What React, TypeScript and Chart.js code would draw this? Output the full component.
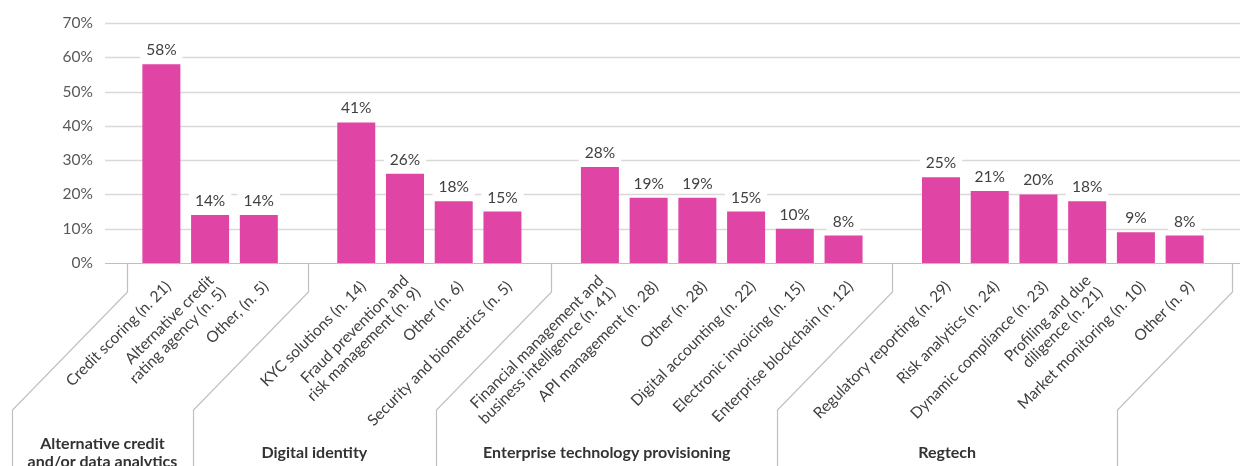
import { useEffect, useRef } from "react";
import { Chart, registerables } from "chart.js";

Chart.register(...registerables);

// ---- data ----
const groupNames = [
  ["Alternative credit", "and/or data analytics"],
  ["Digital identity"],
  ["Enterprise technology provisioning"],
  ["Regtech"],
];

const creditLabels = [
  ["Credit scoring (n. 21)"],
  ["Alternative credit", "rating agency (n. 5)"],
  ["Other, (n. 5)"],
];
const creditValues = [58, 14, 14];

const identityLabels = [
  ["KYC solutions (n. 14)"],
  ["Fraud prevention and", "risk management (n. 9)"],
  ["Other (n. 6)"],
  ["Security and biometrics (n. 5)"],
];
const identityValues = [41, 26, 18, 15];

const enterpriseLabels = [
  ["Financial management and", "business intelligence (n. 41)"],
  ["API management (n. 28)"],
  ["Other (n. 28)"],
  ["Digital accounting (n. 22)"],
  ["Electronic invoicing (n. 15)"],
  ["Enterprise blockchain (n. 12)"],
];
const enterpriseValues = [28, 19, 19, 15, 10, 8];

const regtechLabels = [
  ["Regulatory reporting (n. 29)"],
  ["Risk analytics (n. 24)"],
  ["Dynamic compliance (n. 23)"],
  ["Profiling and due", "diligence (n. 21)"],
  ["Market monitoring (n. 10)"],
  ["Other (n. 9)"],
];
const regtechValues = [25, 21, 20, 18, 9, 8];

const yTickValues = [0, 10, 20, 30, 40, 50, 60, 70];

// ---- build category list with a blank slot between groups ----
const groupLabelLists = [creditLabels, identityLabels, enterpriseLabels, regtechLabels];
const groupValueLists = [creditValues, identityValues, enterpriseValues, regtechValues];

const labels: string[][] = [];
const values: (number | null)[] = [];
const groupRanges: { start: number; end: number }[] = [];
groupLabelLists.forEach((lbls, g) => {
  if (g > 0) {
    labels.push([""]);
    values.push(null);
  }
  const start = labels.length;
  lbls.forEach((l, i) => {
    labels.push(l);
    values.push(groupValueLists[g][i]);
  });
  groupRanges.push({ start, end: labels.length - 1 });
});

// ---- style ----
const FONT = "Lato, 'Open Sans', sans-serif";
const BAR = "#E045A6";
const GRID = "#D9D9D9";
const AXIS = "#BFBFBF";
const GRID_LEFT = 105;
const GRID_RIGHT = 1240;

const decorPlugin = {
  id: "decor",
  beforeDatasetsDraw(chart: any) {
    const { ctx } = chart;
    const y = chart.scales.y;
    ctx.save();
    yTickValues.forEach((t) => {
      const py = Math.round(y.getPixelForValue(t)) + 0.5;
      ctx.beginPath();
      ctx.strokeStyle = t === 0 ? AXIS : GRID;
      ctx.lineWidth = t === 0 ? 1.2 : 1.4;
      ctx.moveTo(GRID_LEFT, py);
      ctx.lineTo(GRID_RIGHT, py);
      ctx.stroke();
    });
    ctx.restore();
  },
  afterDatasetsDraw(chart: any) {
    const { ctx } = chart;
    const x = chart.scales.x;
    const y = chart.scales.y;
    const meta = chart.getDatasetMeta(0);
    const base = y.getPixelForValue(0);
    const step = x.getPixelForValue(1) - x.getPixelForValue(0);

    ctx.save();
    // value labels with white backing
    ctx.font = `15.5px ${FONT}`;
    ctx.textAlign = "center";
    ctx.textBaseline = "middle";
    values.forEach((v, i) => {
      if (v === null) return;
      const el = meta.data[i];
      const cx = el.x;
      const cy = el.y - 14.5;
      const text = `${v}%`;
      const w = ctx.measureText(text).width;
      ctx.fillStyle = "#FFFFFF";
      ctx.fillRect(cx - w / 2 - 6, cy - 9, w + 12, 18);
      ctx.fillStyle = "#404040";
      ctx.fillText(text, cx, cy + 0.5);
    });

    // category labels, rotated 45 degrees
    ctx.font = `15.5px ${FONT}`;
    ctx.fillStyle = "#404040";
    ctx.textAlign = "right";
    ctx.textBaseline = "middle";
    const lh = 17;
    labels.forEach((lines, i) => {
      if (values[i] === null) return;
      const px = x.getPixelForValue(i);
      ctx.save();
      ctx.translate(px + 7, base + 21);
      ctx.rotate(-Math.PI / 4);
      lines.forEach((ln, k) => {
        ctx.fillText(ln, 0, (k - (lines.length - 1) / 2) * lh);
      });
      ctx.restore();
    });

    // group dividers
    const divX: number[] = [];
    divX.push(x.getPixelForValue(groupRanges[0].start) - 0.7 * step);
    for (let g = 1; g < groupRanges.length; g++) {
      divX.push((x.getPixelForValue(groupRanges[g - 1].end) + x.getPixelForValue(groupRanges[g].start)) / 2);
    }
    divX.push(x.getPixelForValue(groupRanges[groupRanges.length - 1].end) + 0.97 * step);

    const kneeTop = base + 29;
    const kneeBottom = base + 147;
    const shift = 115;
    const bottom = chart.height;
    ctx.strokeStyle = AXIS;
    ctx.lineWidth = 1.2;
    divX.forEach((dx) => {
      const xx = Math.round(dx) + 0.5;
      ctx.beginPath();
      ctx.moveTo(xx, base);
      ctx.lineTo(xx, kneeTop);
      ctx.lineTo(xx - shift, kneeBottom);
      ctx.lineTo(xx - shift, bottom);
      ctx.stroke();
    });

    // group names
    ctx.font = `bold 16px ${FONT}`;
    ctx.fillStyle = "#333333";
    ctx.textAlign = "center";
    ctx.textBaseline = "middle";
    const glh = 18;
    groupNames.forEach((lines, g) => {
      const cx = (divX[g] + divX[g + 1]) / 2 - shift;
      lines.forEach((ln, k) => {
        ctx.fillText(ln, cx, base + 190 + (k - (lines.length - 1) / 2) * glh);
      });
    });
    ctx.restore();
  },
};

export default function App() {
  const canvasRef = useRef<HTMLCanvasElement | null>(null);

  useEffect(() => {
    if (!canvasRef.current) return;
    const chart = new Chart(canvasRef.current, {
      type: "bar",
      data: {
        labels: labels,
        datasets: [
          {
            data: values,
            backgroundColor: BAR,
            categoryPercentage: 1,
            barPercentage: 0.78,
          },
        ],
      },
      options: {
        animation: false,
        responsive: false,
        layout: { padding: { left: 0, right: 31, top: 23, bottom: 203 } },
        plugins: { legend: { display: false }, tooltip: { enabled: false } },
        scales: {
          x: {
            display: false,
            offset: true,
          },
          y: {
            min: 0,
            max: 70,
            grid: { display: false, drawTicks: false },
            border: { display: false },
            afterBuildTicks: (scale: any) => {
              scale.ticks = yTickValues.map((v) => ({ value: v }));
            },
            afterFit: (scale: any) => {
              scale.width = 137;
              scale.paddingTop = 0;
              scale.paddingBottom = 0;
            },
            ticks: {
              padding: 44,
              color: "#595959",
              font: { family: FONT, size: 15.5 },
              callback: (v: any) => `${v}%`,
            },
          },
        },
      },
      plugins: [decorPlugin],
    });
    return () => chart.destroy();
  }, []);

  return (
    <div style={{ position: "absolute", left: 0, top: 0, width: 1240, height: 466, background: "#fff" }}>
      <canvas ref={canvasRef} width={1240} height={466} />
    </div>
  );
}
